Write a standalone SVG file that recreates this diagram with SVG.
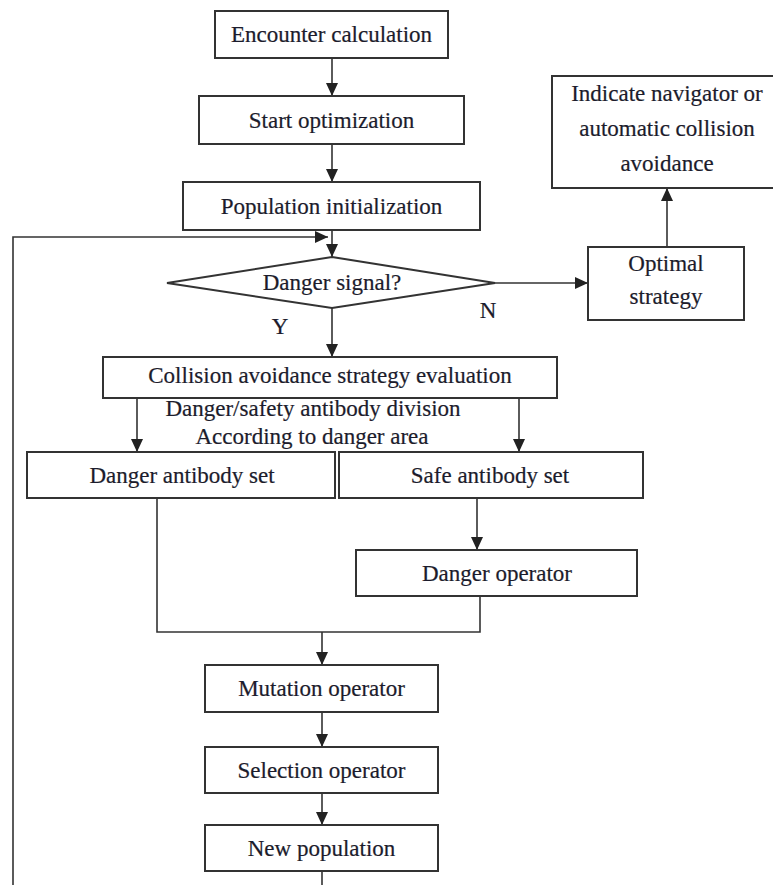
<svg xmlns="http://www.w3.org/2000/svg" width="773" height="885" viewBox="0 0 773 885">
<defs>
<marker id="ah" viewBox="0 0 13 12" refX="13" refY="6" markerWidth="13" markerHeight="12" markerUnits="userSpaceOnUse" orient="auto">
<path d="M0,0 L13,6 L0,12 Z" fill="#222"/>
</marker>
<style>
.box{fill:#fff;stroke:#333;stroke-width:2}
.t{font-family:"Liberation Serif","Times New Roman",serif;font-size:23px;fill:#1c1c2c;stroke:#1c1c2c;stroke-width:0.2;text-anchor:middle}
.c{fill:none;stroke:#333;stroke-width:1.6}
.a{marker-end:url(#ah)}
</style>
</defs>
<rect width="773" height="885" fill="#fff"/>
<g id="connectors">
<line class="c a" x1="332" y1="58" x2="332" y2="96"/>
<line class="c a" x1="332" y1="144" x2="332" y2="182"/>
<line class="c a" x1="332" y1="230" x2="332" y2="257"/>
<polyline class="c a" points="13,885 13,237 328,237"/>
<line class="c a" x1="495" y1="283" x2="588" y2="283"/>
<line class="c a" x1="667" y1="247" x2="667" y2="188"/>
<line class="c a" x1="332" y1="308" x2="332" y2="357"/>
<line class="c a" x1="137" y1="398" x2="137" y2="452"/>
<line class="c a" x1="519" y1="398" x2="519" y2="452"/>
<line class="c a" x1="477" y1="498" x2="477" y2="550"/>
<polyline class="c" points="157,498 157,632 480,632 480,596"/>
<line class="c a" x1="322" y1="632" x2="322" y2="665"/>
<line class="c a" x1="322" y1="712" x2="322" y2="747"/>
<line class="c a" x1="322" y1="793" x2="322" y2="825"/>
<line class="c" x1="322" y1="871" x2="322" y2="885"/>
</g>
<g id="n-encounter"><rect class="box" x="215" y="11" width="233" height="47"/><text class="t" x="331.5" y="42">Encounter calculation</text></g>
<g id="n-start"><rect class="box" x="199" y="96" width="265" height="48"/><text class="t" x="331.5" y="128">Start optimization</text></g>
<g id="n-init"><rect class="box" x="183" y="182" width="297" height="48"/><text class="t" x="331.5" y="214">Population initialization</text></g>
<g id="n-danger-signal"><polygon class="box" points="332,257 495,283 332,308 167,283"/><text class="t" x="332" y="290">Danger signal?</text></g>
<g id="labels">
<text class="t" x="488" y="318">N</text>
<text class="t" x="280" y="334">Y</text>
<text class="t" x="313" y="416">Danger/safety antibody division</text>
<text class="t" x="312" y="444">According to danger area</text>
</g>
<g id="n-optimal"><rect class="box" x="588" y="247" width="156" height="73"/><text class="t" x="666" y="271">Optimal</text><text class="t" x="666" y="304">strategy</text></g>
<g id="n-indicate"><rect class="box" x="552" y="76" width="225" height="112"/><text class="t" x="667" y="101">Indicate navigator or</text><text class="t" x="667" y="136">automatic collision</text><text class="t" x="667" y="171">avoidance</text></g>
<g id="n-evaluation"><rect class="box" x="103" y="357" width="454" height="41"/><text class="t" x="330" y="383">Collision avoidance strategy evaluation</text></g>
<g id="n-danger-set"><rect class="box" x="27" y="452" width="308" height="46"/><text class="t" x="182" y="483">Danger antibody set</text></g>
<g id="n-safe-set"><rect class="box" x="339" y="452" width="304" height="46"/><text class="t" x="490" y="483">Safe antibody set</text></g>
<g id="n-danger-op"><rect class="box" x="356" y="550" width="281" height="46"/><text class="t" x="497" y="581">Danger operator</text></g>
<g id="n-mutation"><rect class="box" x="205" y="665" width="233" height="47"/><text class="t" x="321.5" y="696">Mutation operator</text></g>
<g id="n-selection"><rect class="box" x="205" y="747" width="233" height="46"/><text class="t" x="321.5" y="778">Selection operator</text></g>
<g id="n-newpop"><rect class="box" x="205" y="825" width="233" height="46"/><text class="t" x="321.5" y="856">New population</text></g>
</svg>
